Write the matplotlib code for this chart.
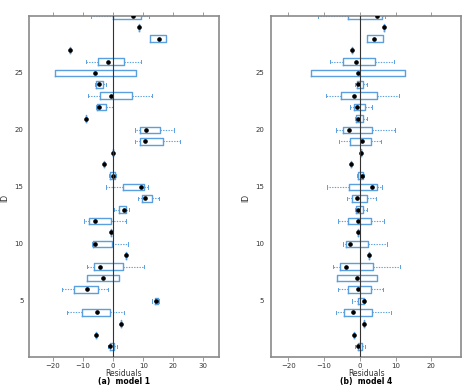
import numpy as np
import matplotlib.pyplot as plt

ids = list(range(1, 31))

# model 1: q1, q3, median, whisker low, whisker high
m1_q1  = [-1.0, -5.7, 2.5, -10.4, 13.8, -12.9, -8.7, -6.5, 4.4, -6.7,
          -0.6, -7.9, 2.0, 9.6, 3.4, -1.0, -3.1, 0.0, 9.0, 9.0,
          -9.1, -5.4, -4.5, -5.8, -19.5, -5.2, -14.4, 12.3, 8.6, 0.0]
m1_q3  = [0.3, -5.7, 2.5, -1.0, 14.9, -5.2, 2.0, 3.1, 4.4, -0.4,
          -0.6, -0.8, 4.4, 12.9, 10.4, 0.6, -3.1, 0.0, 16.5, 15.6,
          -9.1, -2.5, 6.2, -3.5, 7.5, 3.6, -14.4, 17.6, 8.6, 9.4]
m1_med = [-1.0, -5.7, 2.5, -5.4, 14.3, -8.8, -3.5, -4.4, 4.4, -6.0,
          -0.6, -6.0, 3.5, 10.5, 9.4, 0.0, -3.1, 0.0, 10.5, 10.8,
          -9.1, -4.7, -0.7, -4.8, -5.9, -1.6, -14.4, 15.1, 8.6, 6.6]
m1_lo  = [-1.8, -5.7, 2.5, -15.5, 12.9, -17.1, -8.7, -8.7, 4.4, -7.2,
          -0.6, -9.8, 0.2, 8.4, -2.5, -1.5, -3.1, 0.0, 7.1, 7.2,
          -9.1, -5.6, -8.5, -6.2, -19.5, -8.9, -14.4, 12.3, 8.6, -7.5]
m1_hi  = [1.2, -5.7, 2.5, 3.5, 15.1, -1.6, 2.0, 10.2, 4.4, 5.0,
          -0.6, 4.4, 5.1, 15.2, 11.5, 0.8, -3.1, 0.0, 22.3, 20.3,
          -9.1, -0.2, 13.0, -2.4, 7.5, 9.2, -14.4, 17.6, 8.6, 12.0]

# model 4
m4_q1  = [-0.65, -1.7, 1.2, -4.3, -0.5, -3.3, -6.5, -5.5, 2.7, -3.8,
          -0.4, -3.3, -1.1, -2.1, -3.1, -0.4, -2.6, 0.2, -2.7, -4.7,
          -1.0, -1.7, -5.4, -0.9, -13.8, -4.6, -2.1, 1.9, 6.9, -3.4]
m4_q3  = [0.55, -1.7, 1.2, 3.5, 1.2, 3.2, 4.9, 3.8, 2.7, 2.3,
          -0.4, 3.2, 0.8, 2.0, 4.7, 0.9, -2.6, 0.2, 3.2, 3.5,
          0.9, 1.4, 4.9, 0.75, 12.7, 4.2, -2.1, 6.5, 6.9, 6.1]
m4_med = [-0.55, -1.7, 1.2, -1.8, 1.1, -0.4, -0.9, -3.8, 2.7, -2.8,
          -0.4, -0.5, -0.5, -0.7, 3.3, 0.5, -2.6, 0.2, 0.5, -3.1,
          -0.4, -0.9, -1.5, -0.4, -0.65, -1.2, -2.1, 4.1, 6.9, 4.7]
m4_lo  = [-1.3, -1.7, 1.2, -6.7, -2.2, -6.1, -6.5, -7.4, 2.7, -4.7,
          -0.4, -6.0, -1.4, -3.7, -9.2, -0.9, -2.6, 0.2, -5.9, -6.6,
          -1.4, -2.8, -9.4, -1.3, -13.8, -8.3, -2.1, 1.9, 6.9, -11.7]
m4_hi  = [1.4, -1.7, 1.2, 8.8, 1.4, 6.6, 4.9, 11.3, 2.7, 7.6,
          -0.4, 6.8, 1.9, 4.6, 6.3, 1.1, -2.6, 0.2, 5.8, 9.8,
          2.1, 3.5, 11.0, 1.9, 12.7, 9.7, -2.1, 6.5, 6.9, 7.0]

blue = '#5aa0e0'
grey = '#8a8a8a'
txt = '#333333'

fig = plt.figure(figsize=(4.65, 3.85), dpi=100)
ax1 = fig.add_axes([0.0624, 0.0727, 0.4086, 0.8857])
ax2 = fig.add_axes([0.5834, 0.0727, 0.4086, 0.8857])


def panel(ax, q1, q3, med, lo, hi, xlim, xticks, title, idx, ypad):
    stats = []
    for i in range(len(ids)):
        stats.append(dict(q1=q1[i], q3=q3[i], med=med[i], whislo=lo[i],
                          whishi=hi[i], fliers=[]))
    ax.bxp(stats, positions=ids, orientation='horizontal', widths=0.58,
           capwidths=0.3, showfliers=False, patch_artist=False,
           boxprops=dict(color=blue, linewidth=1.0),
           whiskerprops=dict(color=blue, linewidth=0.8, linestyle=(0, (1.2, 1.2))),
           capprops=dict(color=blue, linewidth=0.7),
           medianprops=dict(linewidth=0))
    ax.plot(med, ids, 'o', color='black', markersize=2.3, zorder=5)
    ax.axvline(0, color='#333333', linewidth=0.8, zorder=6)
    ax.set_xlim(xlim)
    ax.set_ylim(0.07, 30.0)
    ax.set_xticks(xticks)
    ax.set_yticks([5, 10, 15, 20, 25])
    ax.set_yticklabels(['5', '10', '15', '20', '25'])
    ax.tick_params(axis='x', top=True, labeltop=False, length=3, width=0.6,
                   color=grey, labelsize=5, pad=1.5, labelcolor=txt)
    ax.tick_params(axis='y', length=0, labelsize=5, pad=ypad, labelcolor=txt)
    for s in ax.spines.values():
        s.set_color(grey)
        s.set_linewidth(1.2)
    pos = ax.get_position()
    cx = pos.x0 + pos.width / 2
    fig.text(cx, 1 - 374 / 385, 'Residuals', ha='center', va='center',
             fontsize=5.5, color=txt)
    fig.text(idx, 187 / 385, 'ID', rotation=90, ha='center', va='center',
             fontsize=5.5, color=txt)
    fig.text(cx, 1 - 381.5 / 385, title, ha='center', va='center',
             fontsize=5.5, fontweight='bold')


panel(ax1, m1_q1, m1_q3, m1_med, m1_lo, m1_hi, (-28.0, 35.2),
      [-20, -10, 0, 10, 20, 30], '(a)  model 1', 5 / 465, 4)
panel(ax2, m4_q1, m4_q3, m4_med, m4_lo, m4_hi, (-24.8, 28.4),
      [-20, -10, 0, 10, 20], '(b)  model 4', 246 / 465, 5)

fig.savefig('out.png', dpi=100)
